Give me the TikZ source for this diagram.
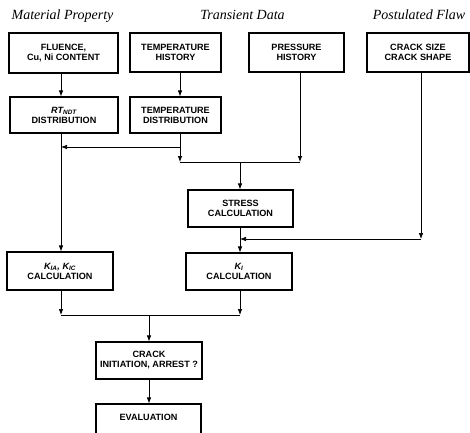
\documentclass[tikz,border=0pt]{standalone}
\usepackage{fontspec}
\newfontfamily\boxfont{Liberation Sans}
\newfontfamily\titlefont{Liberation Serif}
\usetikzlibrary{arrows.meta}
\begin{document}
\begin{tikzpicture}[x=1pt,y=-1pt,
  box/.style={draw, line width=1.1pt, inner sep=0pt, align=center,
    font=\boxfont\bfseries\fontsize{9.1}{10}\selectfont},
  ttl/.style={anchor=base, inner sep=0pt, font=\titlefont\itshape\fontsize{14}{16}\selectfont},
  conn/.style={line width=0.7pt},
  arr/.style={line width=0.7pt, -{Latex[length=6pt,width=4.5pt]}}]
\useasboundingbox (0,0) rectangle (470,432);
\clip (0,0) rectangle (470,432);

% titles
\node[ttl] (t1) at (62.5,19) {Material Property};
\node[ttl] (t2) at (242.5,19) {Transient Data};
\node[ttl] (t3) at (419,19) {Postulated Flaw};

% boxes
\node[box, minimum width=109pt, minimum height=40pt] (flu) at (63.5,53) {FLUENCE,\\Cu, Ni CONTENT};
\node[box, minimum width=91pt, minimum height=39pt] (th) at (175.5,52.5) {TEMPERATURE\\HISTORY};
\node[box, minimum width=95pt, minimum height=39pt] (ph) at (296.5,52.5) {PRESSURE\\HISTORY};
\node[box, minimum width=102pt, minimum height=39pt] (cs) at (418,52.5) {CRACK SIZE\\CRACK SHAPE};
\node[box, minimum width=108pt, minimum height=36pt] (rt) at (64,115) {{\itshape RT\textsubscript{NDT}}\\DISTRIBUTION};
\node[box, minimum width=91pt, minimum height=36pt] (td) at (175.5,115) {TEMPERATURE\\DISTRIBUTION};
\node[box, minimum width=105pt, minimum height=37pt] (sc) at (240.5,208.5) {STRESS\\CALCULATION};
\node[box, minimum width=106pt, minimum height=38pt] (kia) at (60,271) {{\itshape K\textsubscript{IA}, K\textsubscript{IC}}\\CALCULATION};
\node[box, minimum width=106pt, minimum height=37pt] (ki) at (239,271.5) {{\itshape K\textsubscript{I}}\\CALCULATION};
\node[box, minimum width=106pt, minimum height=37pt] (cr) at (149,360.5) {CRACK\\INITIATION, ARREST ?};
\node[box, minimum width=105pt, minimum height=38pt, text depth=12pt] (ev) at (148.5,423) {EVALUATION};

% column coordinates
\coordinate (xa) at (61,0);
\coordinate (xb) at (180,0);
\coordinate (xc) at (240,0);
\coordinate (xd) at (300,0);
\coordinate (xe) at (421,0);
\coordinate (xf) at (149,0);

% junctions
\coordinate (jb) at (180,147);
\coordinate (ja) at (61,147);
\coordinate (jL) at (180,162);
\coordinate (jC) at (240,162);
\coordinate (jR) at (300,162);
\coordinate (kE) at (421,239);
\coordinate (kC) at (240,239);
\coordinate (bL) at (61,315);
\coordinate (bC) at (149,315);
\coordinate (bR) at (240,315);

% connectors
\draw[arr] (flu.south -| xa) -- (rt.north -| xa);
\draw[arr] (th.south -| xb) -- (td.north -| xb);
\draw[arr] (rt.south -| xa) -- (kia.north -| xa);
\draw[conn] (td.south -| xb) -- (jb);
\draw[arr] (jb) -- (ja);
\draw[arr] (jb) -- (jL);
\draw[arr] (ph.south -| xd) -- (jR);
\draw[conn] (jL) -- (jR);
\draw[arr] (jC) -- (sc.north -| xc);
\draw[arr] (cs.south -| xe) -- (kE);
\draw[arr] (kE) -- (kC);
\draw[arr] (sc.south -| xc) -- (ki.north -| xc);
\draw[arr] (kia.south -| xa) -- (bL);
\draw[arr] (ki.south -| xc) -- (bR);
\draw[conn] (bL) -- (bR);
\draw[arr] (bC) -- (cr.north -| xf);
\draw[arr] (cr.south -| xf) -- (ev.north -| xf);
\end{tikzpicture}
\end{document}
